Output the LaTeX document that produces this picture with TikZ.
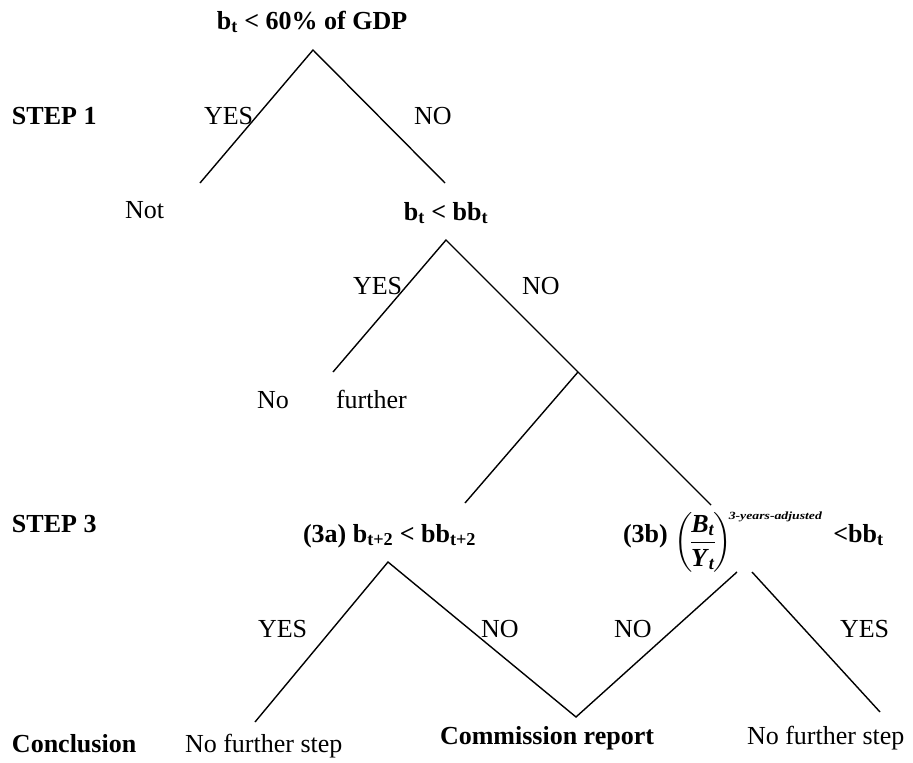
\documentclass[tikz,border=0pt]{standalone}
\usepackage{fontspec}
\setmainfont{Liberation Serif}
\usepackage{amsmath}
\usepackage{graphicx}
\begin{document}
\begin{tikzpicture}[x=1pt,y=-1pt,
  txt/.style={inner sep=0pt, outer sep=0pt, anchor=base west, font=\fontsize{26}{30}\selectfont},
  btxt/.style={txt, font=\fontsize{26}{30}\selectfont\bfseries},
  branch/.style={line width=1.4pt}]
\useasboundingbox (0,0) rectangle (913,763);

% texts
\node[btxt, anchor=base] (title) at (312,29) {b\textsubscript{t} < 60\% of GDP};
\node[btxt] (step1) at (12,124) {STEP 1};
\node[txt] (yes1) at (204,124) {YES};
\node[txt] (no1) at (414,124) {NO};
\node[txt] (not) at (125,218) {Not};
\node[btxt, anchor=base] (q2) at (446,220) {b\textsubscript{t} < bb\textsubscript{t}};
\node[txt] (yes2) at (353,294) {YES};
\node[txt] (no2) at (522,294) {NO};
\node[txt] (no) at (257,408) {No};
\node[txt] (further) at (336,408) {further};
\node[btxt] (step3) at (12,532) {STEP 3};
\node[btxt] (q3a) at (303,542) {(3a) b\textsubscript{t+2} < bb\textsubscript{t+2}};
\node[btxt] (q3b) at (623,542) {(3b) \raisebox{-7pt}{$\left(\mkern-2mu\dfrac{\textbf{\textit{B}}_{\textbf{\textit{t}}}}{\textbf{\textit{Y}}_{\textbf{\textit{t}}}}\mkern-2mu\right)^{\mkern-3mu\text{\scalebox{1.25}[1]{\fontsize{11}{11}\selectfont\bfseries\itshape 3-years-adjusted}}}$}\ \,<bb\textsubscript{t}};
\node[txt] (yes3a) at (258,637) {YES};
\node[txt] (no3a) at (481,637) {NO};
\node[txt] (no3b) at (614,637) {NO};
\node[txt] (yes3b) at (840,637) {YES};
\node[btxt] (concl) at (12,752) {Conclusion};
\node[txt] (nfs1) at (185,752) {No further step};
\node[btxt] (comm) at (440,744) {Commission report};
\node[txt] (nfs2) at (747,744) {No further step};

% branch points
\coordinate (a1) at (313,50);
\coordinate (a1l) at (200,183);
\coordinate (a1r) at (445,183);
\coordinate (a2) at (446,240);
\coordinate (a2l) at (333,372);
\coordinate (j) at (578,372);
\coordinate (a2r) at (711,505);
\coordinate (jl) at (465,503);
\coordinate (a3) at (388,562);
\coordinate (a3l) at (255,722);
\coordinate (c) at (576,717);
\coordinate (b3l) at (737,572);
\coordinate (b3r) at (752,572);
\coordinate (b3re) at (880,712);

% branches
\draw[branch] (a1l) -- (a1) -- (a1r);
\draw[branch] (a2l) -- (a2) -- (j) -- (a2r);
\draw[branch] (j) -- (jl);
\draw[branch] (a3l) -- (a3) -- (c) -- (b3l);
\draw[branch] (b3r) -- (b3re);
\end{tikzpicture}
\end{document}
